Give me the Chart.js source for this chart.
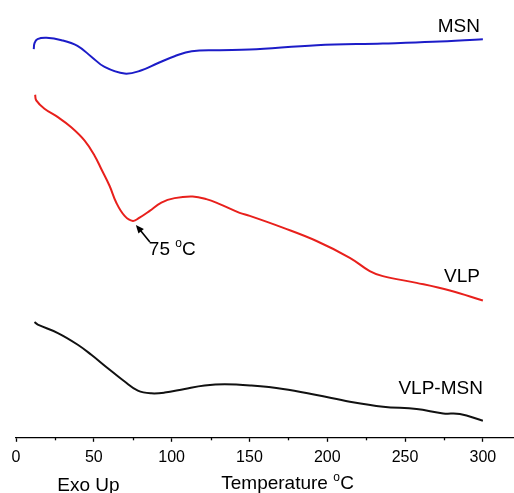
<!DOCTYPE html>
<html>
<head>
<meta charset="utf-8">
<style>
  html, body { margin: 0; padding: 0; background: #fff; }
  canvas { display: block; }
</style>
<script src="https://cdn.jsdelivr.net/npm/chart.js@4.4.1/dist/chart.umd.min.js"></script>
</head>
<body>
<canvas id="c" width="514" height="493"></canvas>
<script>
// Temperature (°C) and heat flow (arbitrary units)
const msnT = [11.4, 11.9, 13.8, 19.6, 29.3, 39.5, 48.6, 56.9, 69.8, 80.7, 91, 101.9, 112.9, 130.9, 150.1, 193.2, 235.7, 267.8, 300];
const msnHF = [38.70, 39.30, 39.70, 39.83, 39.60, 39.03, 37.93, 36.93, 36.27, 36.60, 37.30, 38.00, 38.50, 38.60, 38.67, 39.10, 39.27, 39.43, 39.70];

const vlpT = [12.3, 13, 18.3, 26.9, 35.5, 44.1, 50.5, 54.8, 60.1, 64.4, 69.8, 75.1, 79.4, 85.9, 93.4, 101.9, 113.5, 122.3, 130.9, 143.7, 150.2, 171.4, 193.1, 214.5, 227.3, 235.7, 257.4, 278.8, 300];
const vlpHF = [34.17, 33.60, 32.77, 31.93, 30.93, 29.60, 28.10, 26.77, 25.10, 23.43, 22.10, 21.60, 21.93, 22.60, 23.43, 23.87, 24.03, 23.77, 23.27, 22.40, 22.10, 20.93, 19.60, 17.93, 16.60, 16.10, 15.43, 14.67, 13.67];

const vlpMsnT = [11.9, 14, 26.9, 39.7, 48.4, 59, 69.8, 78.3, 86.9, 95.5, 108.4, 121.2, 134.1, 151.3, 171.6, 193.1, 214.5, 235.9, 257.4, 274.5, 285.2, 300];
const vlpMsnHF = [11.53, 11.27, 10.43, 9.27, 8.27, 6.93, 5.60, 4.70, 4.43, 4.50, 4.87, 5.20, 5.33, 5.20, 4.87, 4.27, 3.60, 3.10, 2.87, 2.43, 2.37, 1.70];

const seriesNames = ['MSN', 'VLP', 'VLP-MSN'];
const xTicks = [0, 50, 100, 150, 200, 250, 300];
const xMinorTicks = [25, 75, 125, 175, 225, 275];
const peakT = 75.1;
const peakLabel = '75 °C';
const xTitle = 'Temperature';
const xUnit = 'C';
const exoLabel = 'Exo Up';

function pts(xs, ys) { return xs.map((x, i) => ({ x: x, y: ys[i] })); }

const FONT = '"Liberation Sans", Arial, sans-serif';
const LBL = '19px ' + FONT;
const SUP = '12px ' + FONT;

const annot = {
  id: 'annot',
  afterDraw(chart) {
    const ctx = chart.ctx;
    const xs = chart.scales.x, ys = chart.scales.y;
    const area = chart.chartArea;
    ctx.save();
    // minor ticks
    ctx.strokeStyle = '#000';
    ctx.lineWidth = 1.3;
    xMinorTicks.forEach(v => {
      const px = Math.round(xs.getPixelForValue(v)) + 0.5;
      ctx.beginPath();
      ctx.moveTo(px, area.bottom);
      ctx.lineTo(px, area.bottom + 2.5);
      ctx.stroke();
    });
    // series labels
    ctx.fillStyle = '#000';
    ctx.font = LBL;
    ctx.textAlign = 'right';
    ctx.textBaseline = 'middle';
    ctx.fillText(seriesNames[0], xs.getPixelForValue(300) - 3, ys.getPixelForValue(40.9));
    ctx.fillText(seriesNames[1], xs.getPixelForValue(300) - 3, ys.getPixelForValue(16.0));
    ctx.fillText(seriesNames[2], xs.getPixelForValue(300), ys.getPixelForValue(4.85));
    // peak arrow
    const peakIdx = vlpT.indexOf(peakT);
    const px0 = xs.getPixelForValue(peakT), py0 = ys.getPixelForValue(vlpHF[peakIdx]);
    const tipX = px0 + 3;
    const tipY = py0 + 4;
    const tailX = tipX + 14, tailY = tipY + 17;
    const ang = Math.atan2(tipY - tailY, tipX - tailX);
    ctx.strokeStyle = '#000';
    ctx.lineWidth = 1.6;
    ctx.beginPath();
    ctx.moveTo(tailX, tailY);
    ctx.lineTo(tipX + 5 * Math.cos(ang + Math.PI), tipY + 5 * Math.sin(ang + Math.PI));
    ctx.stroke();
    ctx.fillStyle = '#000';
    ctx.beginPath();
    ctx.moveTo(tipX, tipY);
    ctx.lineTo(tipX - 9 * Math.cos(ang - 0.4), tipY - 9 * Math.sin(ang - 0.4));
    ctx.lineTo(tipX - 9 * Math.cos(ang + 0.4), tipY - 9 * Math.sin(ang + 0.4));
    ctx.closePath();
    ctx.fill();
    // peak label with superscript degree
    ctx.textAlign = 'left';
    ctx.textBaseline = 'alphabetic';
    const lx = px0 + 16, ly = py0 + 34;
    const parts = peakLabel.split(' ');
    ctx.font = LBL;
    ctx.fillText(parts[0], lx, ly);
    let w = ctx.measureText(parts[0] + ' ').width;
    ctx.font = SUP;
    ctx.fillText('o', lx + w, ly - 8);
    w += ctx.measureText('o').width;
    ctx.font = LBL;
    ctx.fillText('C', lx + w, ly);
    // axis title with superscript o
    ctx.font = LBL;
    const t1 = xTitle + ' ';
    const ty = area.bottom + 51;
    const totalW = ctx.measureText(t1).width + 7 + ctx.measureText(xUnit).width;
    let tx = xs.getPixelForValue(174.5) - totalW / 2;
    ctx.fillText(t1, tx, ty);
    tx += ctx.measureText(t1).width;
    ctx.font = SUP;
    ctx.fillText('o', tx, ty - 8);
    tx += 7;
    ctx.font = LBL;
    ctx.fillText(xUnit, tx, ty);
    // Exo Up
    ctx.fillText(exoLabel, xs.getPixelForValue(26.5), area.bottom + 53);
    ctx.restore();
  }
};

new Chart(document.getElementById('c'), {
  type: 'scatter',
  data: {
    datasets: [
      { label: seriesNames[0], data: pts(msnT, msnHF), borderColor: '#1c1cc8', showLine: true },
      { label: seriesNames[1], data: pts(vlpT, vlpHF), borderColor: '#e8201c', showLine: true },
      { label: seriesNames[2], data: pts(vlpMsnT, vlpMsnHF), borderColor: '#111111', showLine: true }
    ]
  },
  options: {
    responsive: false,
    animation: false,
    devicePixelRatio: 1,
    layout: { padding: { left: 16, right: 0, top: 0, bottom: 20 } },
    elements: {
      point: { radius: 0, hoverRadius: 0 },
      line: { borderWidth: 2, tension: 0.4, fill: false }
    },
    plugins: { legend: { display: false }, tooltip: { enabled: false } },
    scales: {
      x: {
        type: 'linear',
        min: 0, max: 320,
        afterBuildTicks: (axis) => { axis.ticks = xTicks.map(v => ({ value: v })); },
        ticks: { includeBounds: false, color: '#000', font: { family: FONT, size: 16 }, padding: 6, maxRotation: 0 },
        grid: { drawOnChartArea: false, drawTicks: true, tickLength: 4, tickColor: '#000', tickWidth: 1.3 },
        border: { display: true, color: '#000', width: 1.3 }
      },
      y: {
        type: 'linear',
        display: false,
        min: 0, max: 43.6
      }
    }
  },
  plugins: [annot]
});
</script>
</body>
</html>
